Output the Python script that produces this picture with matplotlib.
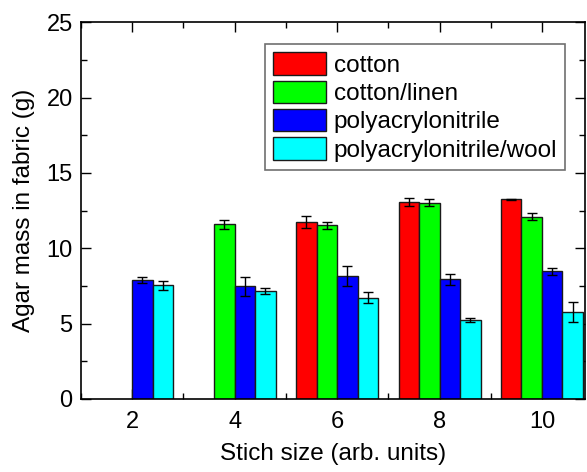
import numpy as np
import matplotlib
matplotlib.use('Agg')
import matplotlib.pyplot as plt
from matplotlib.ticker import MultipleLocator

plt.rcParams['font.family'] = ['Liberation Sans', 'DejaVu Sans']

stitch = np.array([2, 4, 6, 8, 10])
names = ['cotton', 'cotton/linen', 'polyacrylonitrile', 'polyacrylonitrile/wool']
colors = ['#ff0000', '#00ff00', '#0000ff', '#00ffff']

# nan = no measurement at that stitch size
cotton = [np.nan, np.nan, 11.72, 13.09, 13.25]
cotton_err = [0, 0, 0.40, 0.28, 0.03]
linen = [np.nan, 11.59, 11.52, 13.03, 12.10]
linen_err = [0, 0.32, 0.24, 0.24, 0.23]
pan = [7.90, 7.48, 8.16, 7.94, 8.47]
pan_err = [0.18, 0.64, 0.64, 0.36, 0.24]
panwool = [7.54, 7.17, 6.72, 5.24, 5.79]
panwool_err = [0.28, 0.18, 0.35, 0.15, 0.65]

series = [cotton, linen, pan, panwool]
errors = [cotton_err, linen_err, pan_err, panwool_err]

fig = plt.figure(figsize=(5.87, 4.72), dpi=100)
ax = fig.add_axes([0.138, 0.1547, 0.8586, 0.798])

width = 0.4
offsets = [-0.6, -0.2, 0.2, 0.6]
error_attri = {'elinewidth': 1, 'ecolor': 'black', 'capsize': 3.5, 'capthick': 1}
for vals, errs, off, col, name in zip(series, errors, offsets, colors, names):
    vals = np.array(vals, dtype=float)
    errs = np.where(np.isnan(vals), np.nan, errs)
    ax.bar(stitch + off, vals, width, yerr=errs, error_kw=error_attri,
           color=col, edgecolor='#1a1a1a', linewidth=1, label=name, zorder=2)

ax.set_xlim(1, 10.84)
ax.set_ylim(0, 25)
ax.xaxis.set_major_locator(MultipleLocator(2))
ax.xaxis.set_minor_locator(MultipleLocator(1))
ax.yaxis.set_major_locator(MultipleLocator(5))
ax.yaxis.set_minor_locator(MultipleLocator(2.5))
ax.tick_params(which='both', direction='in', top=True, right=True, width=1, labelsize=17)
ax.tick_params(which='major', length=7)
ax.tick_params(which='minor', length=4)
ax.tick_params(axis='x', which='major', pad=9)
ax.tick_params(axis='y', which='major', pad=6)
for sp in ax.spines.values():
    sp.set_linewidth(1.2)

ax.set_xlabel('Stich size (arb. units)', fontsize=17.5, labelpad=7)
ax.set_ylabel('Agar mass in fabric (g)', fontsize=17.5, labelpad=8)

leg = ax.legend(loc='upper left', bbox_to_anchor=(0.366, 0.9416), borderaxespad=0,
                fontsize=17.5, handlelength=2.18, handleheight=1.05, labelspacing=0.15,
                handletextpad=0.3, borderpad=0.33, fancybox=False, framealpha=1)
leg.get_frame().set_edgecolor('#707070')
leg.get_frame().set_linewidth(1.2)

fig.savefig('out.png', dpi=100)
